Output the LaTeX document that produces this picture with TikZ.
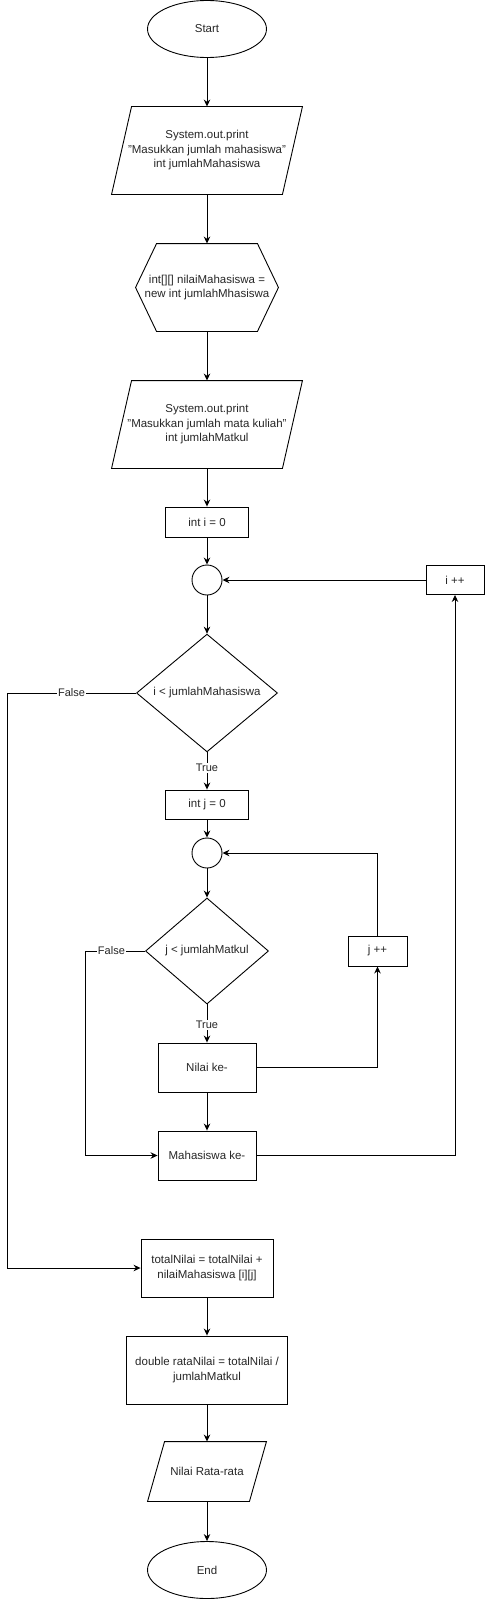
\documentclass[tikz,border=0pt]{standalone}
\usepackage{fontspec}
\setmainfont{Liberation Sans}
\usetikzlibrary{shapes.geometric}
\usetikzlibrary{arrows.meta}

\begin{document}
\begin{tikzpicture}[x = 1pt, y = -1pt, line width = 0.9pt,
		font = \fontsize{11.5}{14.5}\selectfont,
		every node/.style = {text = black!85, align = center, inner sep = 0pt},
		terminal/.style = {draw, ellipse, minimum width = 119pt, minimum height = 57pt},
		process/.style = {draw, rectangle},
		decision/.style = {draw, diamond},
		joint/.style = {draw, circle, minimum size = 30pt},
		flow/.style = {-{Stealth[length = 7pt, width = 6.5pt]}},
		branch/.style = {fill = white, inner sep = 1pt, font = \fontsize{11}{13}\selectfont}
	]
		\useasboundingbox (0,0) rectangle (485,1600);
		%
		\node (start) [terminal] at (207, 29){Start};
		\node (readMhs) [minimum width = 190pt, minimum height = 87pt] at (207, 150.5){System.out.print\\"Masukkan jumlah mahasiswa"\\int jumlahMahasiswa};
		\node (alloc) [minimum width = 142pt, minimum height = 87pt] at (207, 287.5){int[][] nilaiMahasiswa =\\new int jumlahMhasiswa};
		\draw (alloc.west) -- ([xshift = 21pt]alloc.north west) -- ([xshift = -21pt]alloc.north east) -- (alloc.east) -- ([xshift = -21pt]alloc.south east) -- ([xshift = 21pt]alloc.south west) -- cycle;
		\node (readMk) [minimum width = 190pt, minimum height = 87pt] at (207, 424.5){System.out.print\\"Masukkan jumlah mata kuliah"\\int jumlahMatkul};
		\node (initI) [process, minimum width = 83pt, minimum height = 30pt] at (207, 522){int i = 0};
		\node (loopI) [joint] at (207, 580){};
		\node (incI) [process, minimum width = 58pt, minimum height = 29pt] at (455, 580){i ++};
		\node (condI) [decision, minimum width = 141pt, minimum height = 116pt] at (207, 693){i < jumlahMahasiswa};
		%
		\node (initJ) [process, minimum width = 83pt, minimum height = 29pt] at (207, 804.5){int j = 0};
		\node (loopJ) [joint] at (207, 853){};
		\node (condJ) [decision, minimum width = 123pt, minimum height = 106pt] at (207, 951){j < jumlahMatkul};
		\node (incJ) [process, minimum width = 59pt, minimum height = 30pt] at (377.5, 951){j ++};
		\node (nilai) [process, minimum width = 98pt, minimum height = 49pt] at (207, 1067.5){Nilai ke-};
		\node (mhs) [process, minimum width = 98pt, minimum height = 49pt] at (207, 1155.5){Mahasiswa ke-};
		%
		\node (total) [process, minimum width = 132pt, minimum height = 58pt] at (207, 1268){totalNilai = totalNilai +\\nilaiMahasiswa [i][j]};
		\node (avg) [process, minimum width = 161pt, minimum height = 68pt] at (207, 1370){double rataNilai = totalNilai /\\jumlahMatkul};
		\node (out) [minimum width = 118pt, minimum height = 59pt] at (207, 1471.5){Nilai Rata-rata};
		\node (end) [terminal] at (207, 1570){End};
		%
		\foreach \n/\s in {readMhs/20, readMk/20, out/17}{
				\draw ([xshift = \s pt]\n.north west) -- (\n.north east) -- ([xshift = -\s pt]\n.south east) -- (\n.south west) -- cycle;
			}
		%
		\coordinate (falseI) at (7, 693);
		\coordinate (falseJ) at (85, 951);
		%
		\foreach \a/\b in {start/readMhs, readMhs/alloc, alloc/readMk, readMk/initI, initI/loopI, loopI/condI, initJ/loopJ, loopJ/condJ, nilai/mhs, total/avg, avg/out, out/end}{
				\draw [flow] (\a) -- (\b);
			}
		\draw [flow] (condI) -- node [branch, pos = 0.42]{True} (initJ);
		\draw [flow] (condJ) -- node [branch, pos = 0.54]{True} (nilai);
		\draw [flow] (nilai) -| (incJ);
		\draw [flow] (incJ) |- (loopJ);
		\draw [flow] (condJ) -- node [branch, pos = 0.56]{False} (falseJ) |- (mhs);
		\draw [flow] (mhs) -| (incI);
		\draw [flow] (incI) -- (loopI);
		\draw [flow] (condI) -- node [branch]{False} (falseI) |- (total);
	\end{tikzpicture}
\end{document}
